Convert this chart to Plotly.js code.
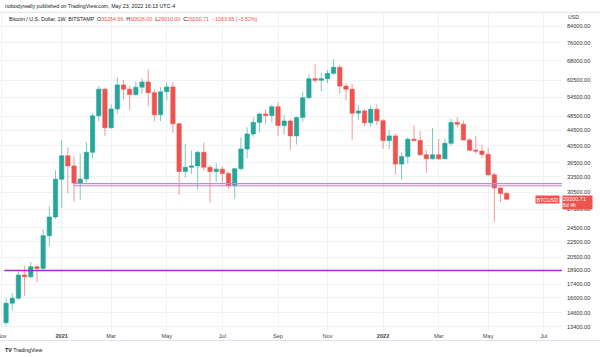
<!DOCTYPE html>
<html><head><meta charset="utf-8">
<script src="https://cdn.plot.ly/plotly-3.0.1.min.js"></script>
<style>html,body{margin:0;padding:0;background:#fff;overflow:hidden;}#chart{width:600px;height:357px;overflow:hidden;}</style>
</head><body><div id="chart"></div>
<script>
// Weekly bars (Monday open), BTC/USD Bitstamp
const weeks = [
'2020-11-02','2020-11-09','2020-11-16','2020-11-23','2020-11-30','2020-12-07','2020-12-14','2020-12-21','2020-12-28',
'2021-01-04','2021-01-11','2021-01-18','2021-01-25','2021-02-01','2021-02-08','2021-02-15','2021-02-22',
'2021-03-01','2021-03-08','2021-03-15','2021-03-22','2021-03-29','2021-04-05','2021-04-12','2021-04-19','2021-04-26',
'2021-05-03','2021-05-10','2021-05-17','2021-05-24','2021-05-31','2021-06-07','2021-06-14','2021-06-21','2021-06-28',
'2021-07-05','2021-07-12','2021-07-19','2021-07-26','2021-08-02','2021-08-09','2021-08-16','2021-08-23','2021-08-30',
'2021-09-06','2021-09-13','2021-09-20','2021-09-27','2021-10-04','2021-10-11','2021-10-18','2021-10-25',
'2021-11-01','2021-11-08','2021-11-15','2021-11-22','2021-11-29','2021-12-06','2021-12-13','2021-12-20','2021-12-27',
'2022-01-03','2022-01-10','2022-01-17','2022-01-24','2022-01-31','2022-02-07','2022-02-14','2022-02-21','2022-02-28',
'2022-03-07','2022-03-14','2022-03-21','2022-03-28','2022-04-04','2022-04-11','2022-04-18','2022-04-25',
'2022-05-02','2022-05-09','2022-05-16','2022-05-23'];
const open = [
13740,15480,15960,18390,18180,19340,19140,23380,26200,
33000,38100,35800,32250,33050,38900,48600,57200,
45200,50700,58700,57200,55400,57900,59800,56000,48900,
56300,58000,46300,34600,35500,35800,38900,35500,34600,
35100,34200,31700,35200,39700,43500,46700,49160,48700,
51400,45800,47100,43000,48100,54300,61000,60400,
61000,63000,65400,58300,57200,49400,50100,46600,50600,
47200,41800,43000,36200,37900,42150,41800,38300,37400,
38300,37400,41100,46700,46200,41950,39400,39200,
38400,33900,31300,30264.66];
const high = [
15960,16480,18800,19450,19900,19420,24300,28000,34800,
41950,40100,37900,38600,41400,49400,58300,57700,
52100,61500,60500,58400,60000,61100,64600,57000,57900,
59500,59600,46600,40900,39300,39300,41300,36000,36400,
35600,34500,35400,42600,45300,48100,49400,50500,51900,
52900,48800,47600,48400,56300,62700,66600,63200,
64300,68800,66300,59300,59100,51900,50600,51800,52100,
47600,44500,43500,38900,42600,45800,44300,39500,45100,
42200,42300,47700,48200,47200,42400,43000,40800,
40000,34300,31400,30626];
const low = [
13500,14800,15790,16200,18000,17580,19000,21900,25900,
27700,30300,28750,29100,32300,37500,47000,43000,
44900,49200,53700,50300,54800,55500,51500,47000,47100,
53400,43800,30000,33300,34100,31000,34800,28600,32400,
32000,31200,29300,34800,37500,42800,43900,46300,46600,
42900,43300,39400,40800,46900,53800,59500,56500,
59400,62300,55600,53400,42000,47300,45600,45500,45900,
39800,39700,34000,32900,36300,41700,38100,34300,37200,
37200,37200,40500,45200,41900,39200,38600,37600,
33700,25400,28700,29010];
const close = [
15480,15960,18390,18180,19340,19140,23380,26200,33000,
38100,35800,32250,33050,38900,48600,57200,45200,
50700,58700,57200,55400,57900,59800,56000,48900,56300,
58000,46300,34600,35500,35800,38900,35500,34600,35100,
34200,31700,35200,39700,43500,46700,49160,48700,51400,
45800,47100,43000,48100,54300,61000,60400,61000,
63000,65400,58300,57200,49400,50100,46600,50600,47200,
41800,43000,36200,37900,42150,41800,38300,37400,38300,
37400,41100,46700,46200,41950,39400,39200,38400,
33900,31300,30264.66,29200.71];

const priceTicks = [84000,76000,68000,60500,54500,48500,44500,40500,36500,33500,30500,27500,24500,22500,20500,18900,17400,16000,14600,13400];
const priceTickText = priceTicks.map(v => v.toFixed(2));
const timeTicks = ['2020-10-28','2021-01-04','2021-03-01','2021-05-03','2021-07-05','2021-09-06','2021-11-01','2022-01-03','2022-03-07','2022-05-02','2022-07-04'];
const timeTickText = ['Nov','<b>2021</b>','Mar','May','Jul','Sep','Nov','<b>2022</b>','Mar','May','Jul'];

// drawn horizontal levels
const supportLevel = 18900, supportStart = '2020-10-31';
const zoneUpper = 32150, zoneLower = 31700, zoneStart = '2021-01-17';

const lastInfo = {sym:'BTCUSD', o:'30264.66', h:'30626.00', l:'29010.00', c:'29200.71', chg:'−1063.95 (−3.52%)', countdown:'6d 4h'};

// plot-area geometry (pixels)
const PL = 0, PR = 562, PT = 13, PB = 331;
const pxX = x => (x - PL) / (PR - PL);
const pxY = y => (PB - y) / (PB - PT);

const UP = '#26a69a', DOWN = '#ef5350';
const FONT = "'Liberation Sans', Arial, sans-serif";

const trace = {
  type: 'candlestick', x: weeks, open: open, high: high, low: low, close: close,
  increasing: {line: {color: 'rgba(38,166,154,0.6)', width: 1}, fillcolor: UP},
  decreasing: {line: {color: 'rgba(239,83,80,0.6)', width: 1}, fillcolor: DOWN},
  whiskerwidth: 0, hoverinfo: 'none', showlegend: false
};

const red = s => '<span style="color:' + DOWN + '">' + s + '</span>';

const layout = {
  width: 600, height: 357,
  margin: {l: PL, r: 600 - PR, t: PT, b: 357 - PB, pad: 0},
  paper_bgcolor: '#fff', plot_bgcolor: '#fff',
  font: {family: FONT, size: 5.6, color: '#333'},
  showlegend: false, boxgap: 0.3, boxgroupgap: 0,
  xaxis: {
    type: 'date', range: ['2020-10-26 03:20', '2022-07-24 15:40'],
    tickmode: 'array', tickvals: timeTicks, ticktext: timeTickText,
    showgrid: true, gridcolor: '#f0f2f6', gridwidth: 1, zeroline: false, showline: false,
    ticks: '', tickfont: {size: 5.6, color: '#444'}, ticklabeloverflow: 'allow',
    rangeslider: {visible: false}, fixedrange: true
  },
  yaxis: {
    type: 'log', side: 'right', range: [4.1159, 4.9595],
    tickmode: 'array', tickvals: priceTicks, ticktext: priceTickText,
    showgrid: true, gridcolor: '#f0f2f6', gridwidth: 1, zeroline: false, showline: false,
    ticks: '', tickfont: {size: 5.6, color: '#333'}, ticklabelstandoff: 4, fixedrange: true
  },
  shapes: [
    {type: 'line', xref: 'paper', yref: 'paper', x0: 0, x1: 600 / PR, y0: pxY(12.3), y1: pxY(12.3), line: {color: '#e0e3eb', width: 1}, layer: 'above'},
    {type: 'line', xref: 'paper', yref: 'paper', x0: 0, x1: 600 / PR, y0: pxY(340.5), y1: pxY(340.5), line: {color: '#e0e3eb', width: 1}},
    {type: 'rect', xref: 'x', yref: 'y', x0: zoneStart, x1: '2023-01-01', y0: zoneLower, y1: zoneUpper, fillcolor: 'rgba(186,104,200,0.18)', line: {width: 0}},
    {type: 'line', xref: 'x', yref: 'y', x0: zoneStart, x1: '2023-01-01', y0: zoneUpper, y1: zoneUpper, line: {color: '#c08ad0', width: 1}},
    {type: 'line', xref: 'x', yref: 'y', x0: zoneStart, x1: '2023-01-01', y0: zoneLower, y1: zoneLower, line: {color: '#c08ad0', width: 1}},
    {type: 'line', xref: 'x', yref: 'y', x0: supportStart, x1: '2023-01-01', y0: supportLevel, y1: supportLevel, line: {color: '#a22fbf', width: 1.3}}
  ],
  annotations: [
    {xref: 'paper', yref: 'paper', x: pxX(3), y: pxY(5.7), xanchor: 'left', yanchor: 'middle', showarrow: false,
     text: 'nobodyreally published on TradingView.com, May 23, 2022 16:13 UTC-4', font: {size: 5.3, color: '#131722'}},
    {xref: 'paper', yref: 'paper', x: pxX(7), y: pxY(19), xanchor: 'left', yanchor: 'middle', showarrow: false,
     text: 'Bitcoin / U.S. Dollar, 1W, BITSTAMP  O' + red(lastInfo.o) + '  H' + red(lastInfo.h) + '  L' + red(lastInfo.l) + '  C' + red(lastInfo.c) + '  ' + red(lastInfo.chg),
     font: {size: 5.3, color: '#131722'}},
    {xref: 'paper', yref: 'paper', x: pxX(566), y: pxY(16.7), xanchor: 'left', yanchor: 'middle', showarrow: false,
     text: 'USD', font: {size: 5.3, color: '#333'}},
    {xref: 'paper', yref: 'y', x: 1, y: Math.log10(close[close.length - 1]), xanchor: 'right', yanchor: 'middle', xshift: -2.5,
     showarrow: false, text: lastInfo.sym, bgcolor: DOWN, borderpad: 0.6, font: {size: 5.2, color: '#fff'}},
    {xref: 'paper', yref: 'y', x: 1, y: Math.log10(close[close.length - 1]), xanchor: 'left', yanchor: 'middle', xshift: 0,
     showarrow: false, text: lastInfo.c, bgcolor: DOWN, borderpad: 0, width: 29, height: 6.2, align: 'left', font: {size: 5.5, color: '#fff'}},
    {xref: 'paper', yref: 'y', x: 1, y: Math.log10(close[close.length - 1]), xanchor: 'left', yanchor: 'middle', xshift: 0, yshift: -6.4,
     showarrow: false, text: lastInfo.countdown, bgcolor: DOWN, borderpad: 0, width: 29, height: 6.6, align: 'left', font: {size: 5.2, color: '#fff'}},
    {xref: 'paper', yref: 'paper', x: pxX(3), y: pxY(350), xanchor: 'left', yanchor: 'middle', showarrow: false,
     text: '<b>TV</b> TradingView', font: {size: 5.3, color: '#131722'}}
  ]
};

Plotly.newPlot('chart', [trace], layout, {staticPlot: true, displayModeBar: false});
</script></body></html>
